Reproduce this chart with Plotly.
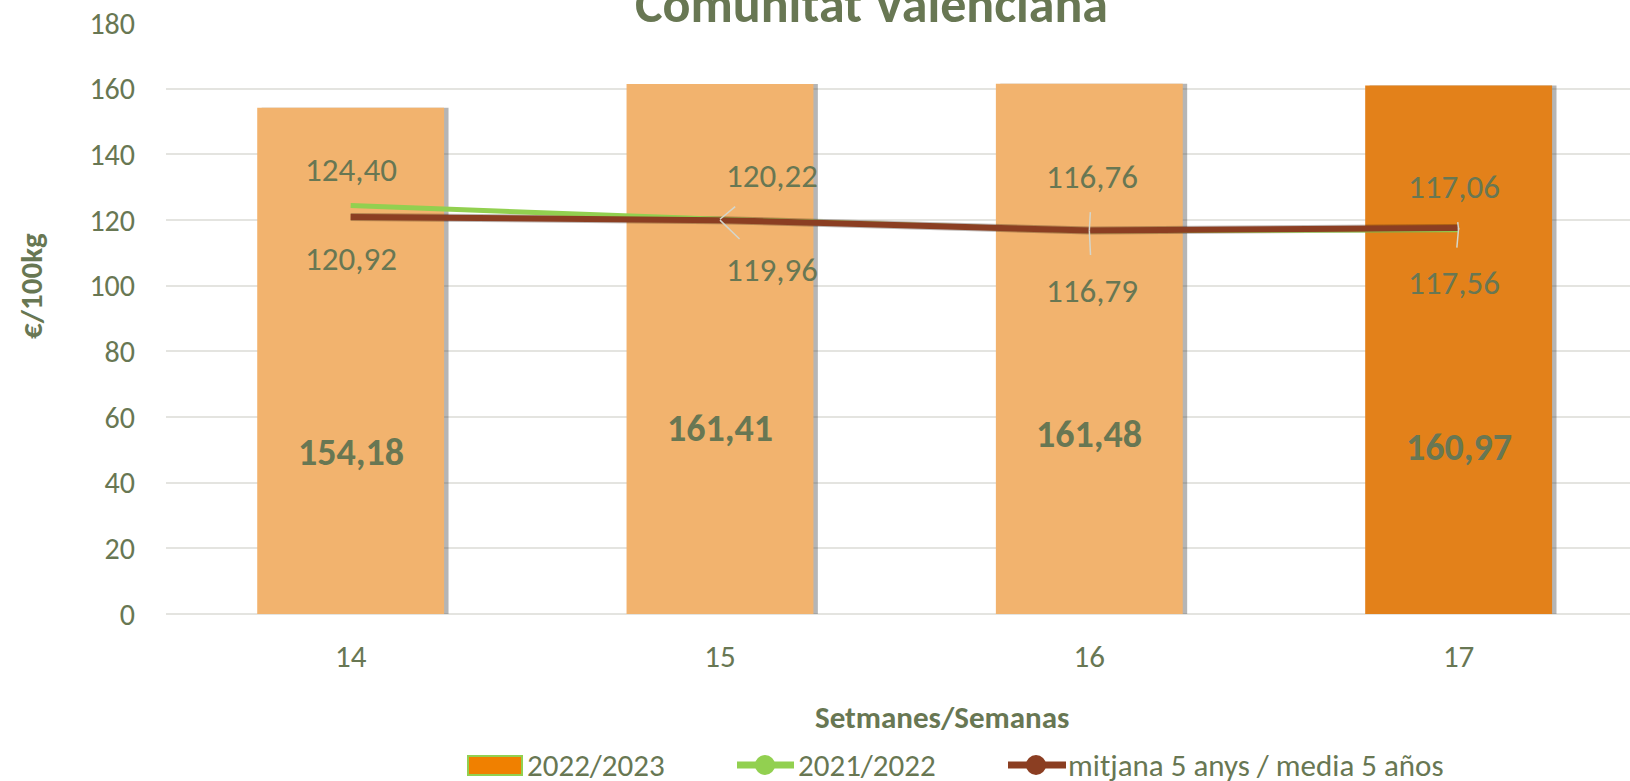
import plotly.graph_objects as go

weeks = ["14", "15", "16", "17"]
s2022_2023 = [154.18, 161.41, 161.48, 160.97]
s2021_2022 = [124.40, 120.22, 116.76, 117.06]
mitjana5 = [120.92, 119.96, 116.79, 117.56]
bar_colors = ["#F2B36E", "#F2B36E", "#F2B36E", "#E3811A"]
bar_label_y = [49.4, 56.6, 54.7, 50.9]
# label offsets (pixels) for line value labels: (ax, ay)
green_off = [(0, -36), (52, -43), (3, -54), (-5, -43)]
brown_off = [(0, 42), (52, 50), (3, 60), (-5, 55)]
green_arrow = [False, True, True, True]
brown_arrow = [False, True, True, True]
legend_names = ["2022/2023", "2021/2022", "mitjana 5 anys / media 5 años"]
legend_colors = ["#F08000", "#92D050", "#8B3E22"]

TXT = "#687753"
FONT = "Carlito, Lato, sans-serif"

W_FIG, H_FIG = 1630, 781
ML, MR, MT, MB = 166, 0, 23, 167
PW = W_FIG - ML - MR
PH = H_FIG - MT - MB


def px2x(px):
    return (px - ML) / PW


def px2y(py):
    return (H_FIG - MB - py) / PH


def fmt(v):
    return f"{v:.2f}".replace(".", ",")


xs = list(range(len(weeks)))
W = 0.506

fig = go.Figure()
# shadow
fig.add_trace(go.Bar(x=xs, y=s2022_2023, width=W, offset=-W / 2 + 0.012,
                     marker=dict(color="rgba(70,70,70,0.40)", line=dict(width=0)),
                     showlegend=False, hoverinfo="skip"))
fig.add_trace(go.Bar(x=xs, y=s2022_2023, width=W, offset=-W / 2,
                     marker=dict(color=bar_colors, line=dict(width=0)),
                     showlegend=False, name="2022/2023"))
fig.add_trace(go.Scatter(x=xs, y=mitjana5, mode="lines",
                         line=dict(color="rgba(40,20,10,0.30)", width=8),
                         showlegend=False, hoverinfo="skip"))
fig.add_trace(go.Scatter(x=xs, y=s2021_2022, mode="lines",
                         line=dict(color="#92D050", width=5), showlegend=False,
                         name="2021/2022"))
fig.add_trace(go.Scatter(x=xs, y=mitjana5, mode="lines",
                         line=dict(color="#8B3E22", width=6), showlegend=False,
                         name="mitjana 5 anys / media 5 años"))

ann = []
for i, v in enumerate(s2022_2023):
    ann.append(dict(x=xs[i], y=bar_label_y[i], text=f"<b>{fmt(v)}</b>", showarrow=False,
                    font=dict(size=38, color=TXT, family=FONT)))
for vals, offs, arr in ((s2021_2022, green_off, green_arrow), (mitjana5, brown_off, brown_arrow)):
    for i, v in enumerate(vals):
        ax, ay = offs[i]
        if arr[i]:
            ann.append(dict(x=xs[i], y=v, text=fmt(v), showarrow=True, arrowhead=0,
                            arrowcolor="#D4D6CC", arrowwidth=1.5, ax=ax, ay=ay,
                            standoff=0, startstandoff=14,
                            font=dict(size=33, color=TXT, family=FONT)))
        else:
            ann.append(dict(x=xs[i], y=v, text=fmt(v), showarrow=False,
                            xshift=ax, yshift=-ay,
                            font=dict(size=33, color=TXT, family=FONT)))
ann.append(dict(text="<b>Comunitat Valenciana</b>", xref="paper", yref="paper",
                x=px2x(871), y=1.0, yanchor="middle", yshift=19,
                showarrow=False, font=dict(size=52, color=TXT, family=FONT)))
ann.append(dict(text="<b>Setmanes/Semanas</b>", xref="paper", yref="paper",
                x=px2x(942), y=px2y(717), yanchor="middle",
                showarrow=False, font=dict(size=31, color=TXT, family=FONT)))
ann.append(dict(text="<b>€/100kg</b>", xref="paper", yref="paper", textangle=-90,
                x=px2x(31), y=px2y(286), xanchor="center", yanchor="middle",
                showarrow=False, font=dict(size=31, color=TXT, family=FONT)))

# manual legend
shapes = []
LY = 765
shapes.append(dict(type="rect", xref="paper", yref="paper",
                   x0=px2x(468), x1=px2x(522), y0=px2y(LY + 10), y1=px2y(LY - 9),
                   fillcolor=legend_colors[0], line=dict(color="#92D050", width=2)))
for (x0, x1, cx), col in (((737, 794, 765), legend_colors[1]), ((1008, 1066, 1036), legend_colors[2])):
    shapes.append(dict(type="line", xref="paper", yref="paper",
                       x0=px2x(x0), x1=px2x(x1), y0=px2y(LY), y1=px2y(LY),
                       line=dict(color=col, width=7)))
    shapes.append(dict(type="circle", xref="paper", yref="paper",
                       x0=px2x(cx - 10), x1=px2x(cx + 10), y0=px2y(LY + 10), y1=px2y(LY - 10),
                       fillcolor=col, line=dict(width=0)))
for name, tx in zip(legend_names, (525, 796, 1066)):
    ann.append(dict(text=name, xref="paper", yref="paper", x=px2x(tx), y=px2y(LY),
                    xanchor="left", yanchor="middle", showarrow=False,
                    font=dict(size=31, color=TXT, family=FONT)))

fig.update_layout(
    width=W_FIG, height=H_FIG,
    margin=dict(l=ML, r=MR, t=MT, b=MB),
    paper_bgcolor="white", plot_bgcolor="white",
    barmode="overlay", showlegend=False,
    font=dict(family=FONT, color=TXT),
    xaxis=dict(range=[-0.5, 3.464], tickmode="array", tickvals=xs, ticktext=weeks,
               showgrid=False, zeroline=False, showline=False, ticks="",
               tickfont=dict(size=31, color=TXT), ticklabelstandoff=21),
    yaxis=dict(range=[0, 180], dtick=20, showgrid=True, gridcolor="#E4E4E0",
               gridwidth=2, zeroline=True, zerolinecolor="#E4E4E0", zerolinewidth=2,
               tickfont=dict(size=30, color=TXT), ticklabelstandoff=30),
    annotations=ann,
    shapes=shapes,
)
fig.write_html("out.html", config={"displayModeBar": False},
               post_script="document.body.style.margin='0';document.body.style.overflow='hidden';")
